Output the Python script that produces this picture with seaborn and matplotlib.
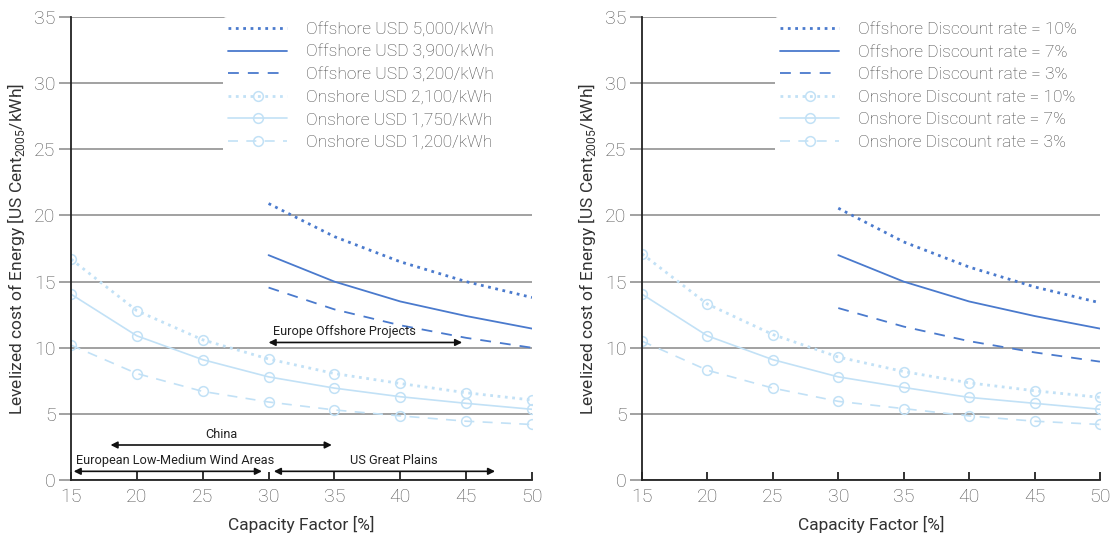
import matplotlib
matplotlib.use("Agg")
import matplotlib.pyplot as plt
import seaborn as sns
import pandas as pd

# capacity factor (%)
cf_on = [15, 20, 25, 30, 35, 40, 45, 50]
cf_off = [30, 35, 40, 45, 50]

# left panel: investment cost
off_5000 = [20.9, 18.4, 16.5, 15.0, 13.8]
off_3900 = [17.0, 15.0, 13.5, 12.4, 11.45]
off_3200 = [14.55, 12.9, 11.7, 10.75, 10.0]
on_2100 = [16.7, 12.8, 10.6, 9.15, 8.05, 7.3, 6.6, 6.05]
on_1750 = [14.05, 10.9, 9.1, 7.8, 6.95, 6.3, 5.8, 5.35]
on_1200 = [10.2, 8.05, 6.7, 5.9, 5.3, 4.85, 4.45, 4.2]

# right panel: discount rate
off_r10 = [20.55, 18.0, 16.1, 14.6, 13.4]
off_r7 = [17.0, 15.0, 13.5, 12.4, 11.45]
off_r3 = [13.0, 11.6, 10.5, 9.65, 8.95]
on_r10 = [17.1, 13.3, 11.0, 9.3, 8.2, 7.35, 6.75, 6.25]
on_r7 = [14.05, 10.9, 9.1, 7.8, 7.0, 6.25, 5.8, 5.35]
on_r3 = [10.5, 8.3, 6.95, 5.95, 5.4, 4.85, 4.45, 4.2]

left_labels = ["Offshore USD 5,000/kWh", "Offshore USD 3,900/kWh", "Offshore USD 3,200/kWh",
               "Onshore USD 2,100/kWh", "Onshore USD 1,750/kWh", "Onshore USD 1,200/kWh"]
right_labels = ["Offshore Discount rate = 10%", "Offshore Discount rate = 7%", "Offshore Discount rate = 3%",
                "Onshore Discount rate = 10%", "Onshore Discount rate = 7%", "Onshore Discount rate = 3%"]

# annotation ranges (left panel only): label, start, end, level
ranges = [("Europe Offshore Projects", 30.0, 44.7, 10.4),
          ("China", 18.0, 34.8, 2.65),
          ("European Low-Medium Wind Areas", 15.2, 29.5, 0.66),
          ("US Great Plains", 30.4, 47.2, 0.66)]
# where the label text sits (x, alignment)
range_text = [(30.35, 'left'), (26.45, 'center'), (15.35, 'left'), (39.5, 'center')]

sns.set_style("white")
plt.rcParams['font.family'] = ['Roboto', 'DejaVu Sans']
plt.rcParams['font.weight'] = 'light'
plt.rcParams['mathtext.fontset'] = 'custom'
plt.rcParams['mathtext.rm'] = 'Roboto:light'

OFF = '#4a7acd'
ON = '#c2e1f6'
GRID = '#9a9a9a'

styles = [(':', OFF, None, 2.0), ('-', OFF, None, 1.3), ((0, (6, 5)), OFF, None, 1.3),
          (':', ON, 'o', 2.0), ('-', ON, 'o', 1.2), ((0, (6, 5)), ON, 'o', 1.2)]

fig = plt.figure(figsize=(11.15, 5.4), dpi=100)
ax1 = fig.add_axes([0.0637, 0.111, 0.4134, 0.8575])
ax2 = fig.add_axes([0.5758, 0.111, 0.4107, 0.8575])


def draw(ax, series, labels, legend_x):
    handles = []
    for (ls, col, mk, lw), (x, y), lab in zip(styles, series, labels):
        df = pd.DataFrame({'cf': x, 'lcoe': y})
        sns.lineplot(data=df, x='cf', y='lcoe', ax=ax, color=col, linestyle=ls, lw=lw,
                     marker=mk, markersize=7, markerfacecolor='none', markeredgecolor=col,
                     markeredgewidth=1.1, zorder=3)
        h = plt.Line2D([], [], color=col, linestyle=ls, lw=lw, marker=mk, markersize=7,
                       markerfacecolor='none', markeredgecolor=col, markeredgewidth=1.1,
                       markevery=[1] if mk else None)
        handles.append(h)
    ax.set_xlim(15, 50)
    ax.set_ylim(0, 35)
    ax.set_xticks(range(15, 51, 5))
    ax.set_yticks(range(0, 36, 5))
    ax.yaxis.grid(True, color=GRID, lw=1.3)
    ax.set_axisbelow(True)
    for s in ['top', 'right']:
        ax.spines[s].set_visible(False)
    for s in ['left', 'bottom']:
        ax.spines[s].set_color('#222222')
        ax.spines[s].set_linewidth(1.3)
        ax.spines[s].set_zorder(4)
    ax.tick_params(axis='y', direction='out', length=9, width=1.3, color=GRID,
                   labelsize=14, labelcolor='#555555', pad=2, left=True)
    ax.tick_params(axis='x', direction='in', length=6, width=1.3, color='#222222',
                   labelsize=14, labelcolor='#555555', pad=6, bottom=True)
    ax.set_xlabel('Capacity Factor [%]', fontsize=12.5, color='#333333', labelpad=7)
    ax.set_ylabel(r'Levelized cost of Energy [US Cent$_{\mathregular{2005}}$/kWh]',
                  fontsize=12.5, color='#333333', labelpad=5)
    leg = ax.legend(handles, labels, loc='upper left', bbox_to_anchor=(legend_x, 0.0, 0.75, 1.0),
                    mode='expand', fontsize=12.5, frameon=True, facecolor='white',
                    edgecolor='none', framealpha=1, handlelength=3.4, handletextpad=1.1,
                    labelspacing=0.42, borderpad=0.3, borderaxespad=0)
    for t in leg.get_texts():
        t.set_color('#444444')
    leg.set_zorder(5)


draw(ax1, [(cf_off, off_5000), (cf_off, off_3900), (cf_off, off_3200),
           (cf_on, on_2100), (cf_on, on_1750), (cf_on, on_1200)], left_labels, 0.33)
draw(ax2, [(cf_off, off_r10), (cf_off, off_r7), (cf_off, off_r3),
           (cf_on, on_r10), (cf_on, on_r7), (cf_on, on_r3)], right_labels, 0.29)

for (text, x0, x1, y), (tx, ha) in zip(ranges, range_text):
    ax1.annotate('', xy=(x0, y), xytext=(x1, y),
                 arrowprops=dict(arrowstyle='<|-|>', color='#111111', lw=1.2,
                                 mutation_scale=10, shrinkA=0, shrinkB=0), zorder=6)
    ax1.text(tx, y + 0.82, text, ha=ha, va='center', fontsize=9.2,
             color='#222222', fontweight='normal', zorder=6)

fig.savefig('out.png', dpi=100)
